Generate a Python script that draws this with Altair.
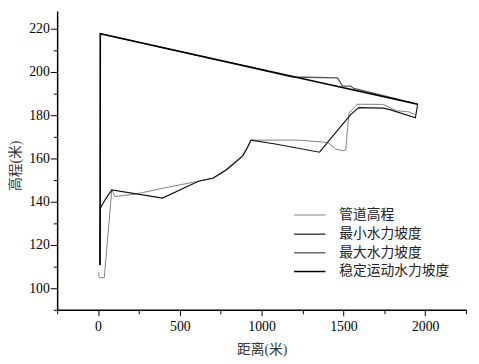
import altair as alt
import pandas as pd

series_names = ["管道高程", "最小水力坡度", "最大水力坡度", "稳定运动水力坡度"]

# 管道高程 (pipeline elevation)
pipe_x = [4, 6, 10, 38, 84, 104, 232, 394, 614, 704, 784, 884, 914, 935, 1224, 1404, 1454, 1494, 1514, 1534, 1554, 1584, 1744, 1824, 1904, 1914, 1935]
pipe_y = [107.6, 105.5, 104.9, 104.9, 145.5, 142.4, 143.6, 146.2, 149.5, 150.8, 154.5, 160.9, 165.0, 168.5, 168.5, 167.4, 164.4, 163.6, 163.9, 181.0, 182.6, 185.1, 185.0, 182.1, 181.5, 181.0, 180.5]

# 最小水力坡度 (minimum hydraulic gradient)
min_x = [12, 14, 44, 84, 394, 614, 704, 784, 884, 914, 935, 1084, 1354, 1544, 1594, 1744, 1784, 1940, 1954]
min_y = [110.6, 137.0, 141.0, 145.5, 141.7, 149.5, 151.0, 154.8, 161.2, 165.2, 168.5, 166.7, 162.9, 180.3, 183.5, 183.3, 182.6, 178.8, 185.1]

# 最大水力坡度 (maximum hydraulic gradient)
max_x = [10, 14, 14, 1190, 1464, 1494, 1544, 1564, 1954]
max_y = [112.9, 137.0, 217.7, 197.7, 197.3, 193.5, 193.5, 192.4, 185.1]

# 稳定运动水力坡度 (steady-flow hydraulic gradient)
stab_x = [10, 12, 14, 1954]
stab_y = [112.5, 110.8, 217.7, 185.1]

rows = []
for name, xs, ys in zip(series_names, [pipe_x, min_x, max_x, stab_x], [pipe_y, min_y, max_y, stab_y]):
    for i, (a, b) in enumerate(zip(xs, ys)):
        rows.append({"series": name, "x": a, "y": b, "i": i})
df = pd.DataFrame(rows)

colors = ["#808080", "#111111", "#555555", "#000000"]
widths = [1.0, 1.5, 1.2, 1.6]

FONT = "Liberation Serif, Noto Sans CJK SC"

x_ticks = list(range(-250, 2251, 250))
y_ticks = list(range(90, 221, 10))

chart = alt.Chart(df).mark_line().encode(
    x=alt.X("x:Q", scale=alt.Scale(domain=[-250, 2250], nice=False, zero=False),
            axis=alt.Axis(title="距离(米)", values=x_ticks, format="d",
                          labelExpr="datum.value % 500 === 0 ? datum.label : ''",
                          tickSize={"condition": {"test": "datum.value % 500 === 0", "value": 6}, "value": 4},
                          labelPadding=4, labelOverlap=False,
                          titleX=208, titleY=40, titleBaseline="middle", titleAlign="center")),
    y=alt.Y("y:Q", scale=alt.Scale(domain=[90, 228.2], nice=False, zero=False),
            axis=alt.Axis(title="高程(米)", values=y_ticks, format="d",
                          labelExpr="(datum.value % 20 === 0 && datum.value >= 100) ? datum.label : ''",
                          tickSize={"condition": {"test": "datum.value % 20 === 0", "value": 7}, "value": 4},
                          labelPadding=1, labelOverlap=False,
                          titleX=-42, titleY=157, titleAngle=-90, titleBaseline="middle", titleAlign="center")),
    color=alt.Color("series:N", sort=series_names,
                    scale=alt.Scale(domain=series_names, range=colors),
                    legend=alt.Legend(title=None, orient="none", legendX=248, legendY=199,
                                      symbolType="M-2,0L2,0", symbolSize=256, symbolStrokeWidth=1.5,
                                      labelFontSize=14, labelFont=FONT, labelColor="#222",
                                      labelOffset=21, rowPadding=3, padding=0)),
    strokeWidth=alt.StrokeWidth("series:N", sort=series_names,
                                scale=alt.Scale(domain=series_names, range=widths), legend=None),
    order="i:Q",
).properties(
    width=416, height=304,
    autosize=alt.AutoSizeParams(type="none"),
    padding={"left": 50, "top": 0, "right": 5, "bottom": 52},
).configure_view(stroke=None).configure_axis(
    grid=False, domainColor="#000", domainWidth=1.5, tickColor="#000", tickWidth=1,
    labelFont=FONT, labelFontSize=14, labelColor="#000",
    titleFont=FONT, titleFontSize=14, titleColor="#333", titleFontWeight="normal",
)

chart.save("out.html", embed_options={"renderer": "svg", "actions": False})
